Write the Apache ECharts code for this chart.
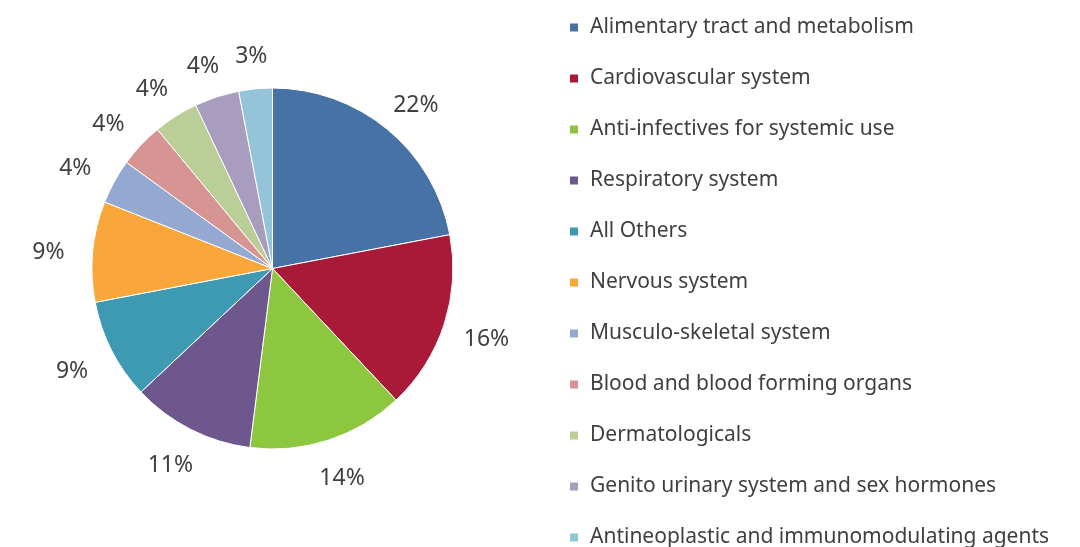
<!DOCTYPE html>
<html>
<head>
<meta charset="utf-8">
<script src="https://cdn.jsdelivr.net/npm/echarts@6/dist/echarts.min.js"></script>
<style>
  html, body { margin: 0; padding: 0; background: #fff; }
  #chart { width: 1080px; height: 547px; }
</style>
</head>
<body>
<div id="chart"></div>
<script>
const categories = [
  'Alimentary tract and metabolism',
  'Cardiovascular system',
  'Anti-infectives for systemic use',
  'Respiratory system',
  'All Others',
  'Nervous system',
  'Musculo-skeletal system',
  'Blood and blood forming organs',
  'Dermatologicals',
  'Genito urinary system and sex hormones',
  'Antineoplastic and immunomodulating agents'
]
const shares = [22, 16, 14, 11, 9, 9, 4, 4, 4, 4, 3]
const colors = [
  '#4672a6', '#a81a37', '#8dc63f', '#6e578d', '#3e9ab3', '#f9a63b',
  '#93a9d1', '#d69492', '#bcce98', '#a89cbf', '#93c4d8'
]

const total = shares.reduce((a, b) => a + b, 0)
const pieData = categories.map((name, i) => ({ name, value: shares[i] }))

// labels sit a bit further out on the left/right sides than at top/bottom
let acc = 0
const labelData = categories.map((name, i) => {
  const mid = (acc + shares[i] / 2) / total * Math.PI * 2
  acc += shares[i]
  return { name, value: shares[i], label: { offset: [Math.sin(mid) * 8, 4] } }
})

const font = '"Noto Sans", Roboto, sans-serif'
const center = [272.5, 268.5]

const chart = echarts.init(document.getElementById('chart'))
chart.setOption({
  animation: false,
  color: colors,
  legend: {
    orient: 'vertical',
    left: 568,
    top: 17,
    height: 545,
    padding: 0,
    icon: 'rect',
    itemWidth: 10,
    itemHeight: 10,
    itemGap: 30,
    data: categories,
    textStyle: {
      fontFamily: font,
      fontSize: 21,
      color: '#404040',
      padding: [0, 0, 0, 6]
    }
  },
  series: [
    {
      type: 'pie',
      center: center,
      radius: [0, 180.5],
      startAngle: 90,
      clockwise: true,
      label: { show: false },
      labelLine: { show: false },
      itemStyle: { borderColor: '#fff', borderWidth: 1 },
      emphasis: { disabled: true },
      data: pieData
    },
    {
      // invisible ring only used to place the % labels around the pie
      type: 'pie',
      center: center,
      radius: [0, 428],
      startAngle: 90,
      clockwise: true,
      silent: true,
      itemStyle: { color: 'rgba(0,0,0,0)' },
      label: {
        show: true,
        position: 'inside',
        formatter: '{c}%',
        fontFamily: font,
        fontSize: 23,
        color: '#404040'
      },
      labelLine: { show: false },
      emphasis: { disabled: true },
      data: labelData
    }
  ]
})
</script>
</body>
</html>
